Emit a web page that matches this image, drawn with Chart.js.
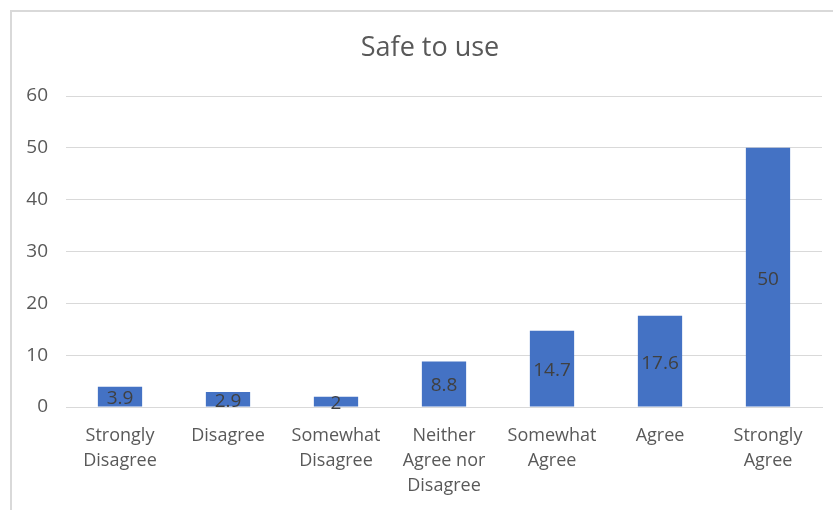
<!DOCTYPE html>
<html>
<head>
<meta charset="utf-8">
<script src="https://cdn.jsdelivr.net/npm/chart.js@4"></script>
<style>
  html, body { margin: 0; padding: 0; background: #fff; overflow: hidden; }
  #wrap { width: 833px; height: 510px; }
</style>
</head>
<body>
<div id="wrap"><canvas id="chartSafe"></canvas></div>
<script>
// Safe to use - survey responses (%)
const chartTitle = 'Safe to use';
const categories = [
    ['Strongly', 'Disagree'],
    'Disagree',
    ['Somewhat', 'Disagree'],
    ['Neither', 'Agree nor', 'Disagree'],
    ['Somewhat', 'Agree'],
    'Agree',
    ['Strongly', 'Agree']
];
const values = [3.9, 2.9, 2, 8.8, 14.7, 17.6, 50];
const yTicks = [0, 10, 20, 30, 40, 50, 60];

const FONT = "'Open Sans', sans-serif";

// outer frame + title, placed like the Excel chart
const framePlugin = {
    id: 'frame',
    beforeDraw(chart) {
        const ctx = chart.ctx;
        ctx.save();
        ctx.fillStyle = '#fff';
        ctx.fillRect(0, 0, chart.width, chart.height);
        ctx.strokeStyle = '#d9d9d9';
        ctx.lineWidth = 2;
        ctx.strokeRect(11, 11, chart.width + 20, chart.height + 20);
        ctx.font = '27px ' + FONT;
        ctx.fillStyle = '#595959';
        ctx.textAlign = 'center';
        ctx.textBaseline = 'middle';
        ctx.fillText(chartTitle, 430, 48);
        ctx.restore();
    }
};

// value labels centered inside bars
const centerLabels = {
    id: 'centerLabels',
    afterDatasetsDraw(chart) {
        const ctx = chart.ctx;
        const meta = chart.getDatasetMeta(0);
        ctx.save();
        ctx.font = '19px ' + FONT;
        ctx.fillStyle = '#404040';
        ctx.textAlign = 'center';
        ctx.textBaseline = 'middle';
        meta.data.forEach((bar, i) => {
            const y = (bar.y + bar.base) / 2 + 2;
            ctx.fillText(String(values[i]), bar.x, y);
        });
        ctx.restore();
    }
};

new Chart(document.getElementById('chartSafe').getContext('2d'), {
    type: 'bar',
    data: {
        labels: categories,
        datasets: [{
            data: values,
            backgroundColor: '#4472c4',
            borderWidth: 0,
            categoryPercentage: 1,
            barPercentage: 0.41
        }]
    },
    options: {
        responsive: true,
        maintainAspectRatio: false,
        animation: false,
        layout: { padding: { left: 0, right: 11, top: 96, bottom: 0 } },
        plugins: {
            legend: { display: false },
            tooltip: { enabled: false },
            title: { display: false }
        },
        scales: {
            x: {
                grid: { display: false, drawTicks: false },
                border: { display: true, color: '#d9d9d9', width: 1 },
                ticks: {
                    color: '#595959',
                    font: { family: FONT, size: 18, lineHeight: 1.39 },
                    padding: 16,
                    maxRotation: 0,
                    autoSkip: false
                },
                afterFit(scale) { scale.height = 103; }
            },
            y: {
                min: 0,
                max: 60,
                afterBuildTicks(scale) { scale.ticks = yTicks.map(v => ({ value: v })); },
                grid: { color: '#d9d9d9', drawTicks: false },
                border: { display: false },
                ticks: {
                    color: '#595959',
                    font: { family: FONT, size: 19 },
                    padding: 18
                },
                afterFit(scale) { scale.width = 66; }
            }
        }
    },
    plugins: [framePlugin, centerLabels]
});
</script>
</body>
</html>
